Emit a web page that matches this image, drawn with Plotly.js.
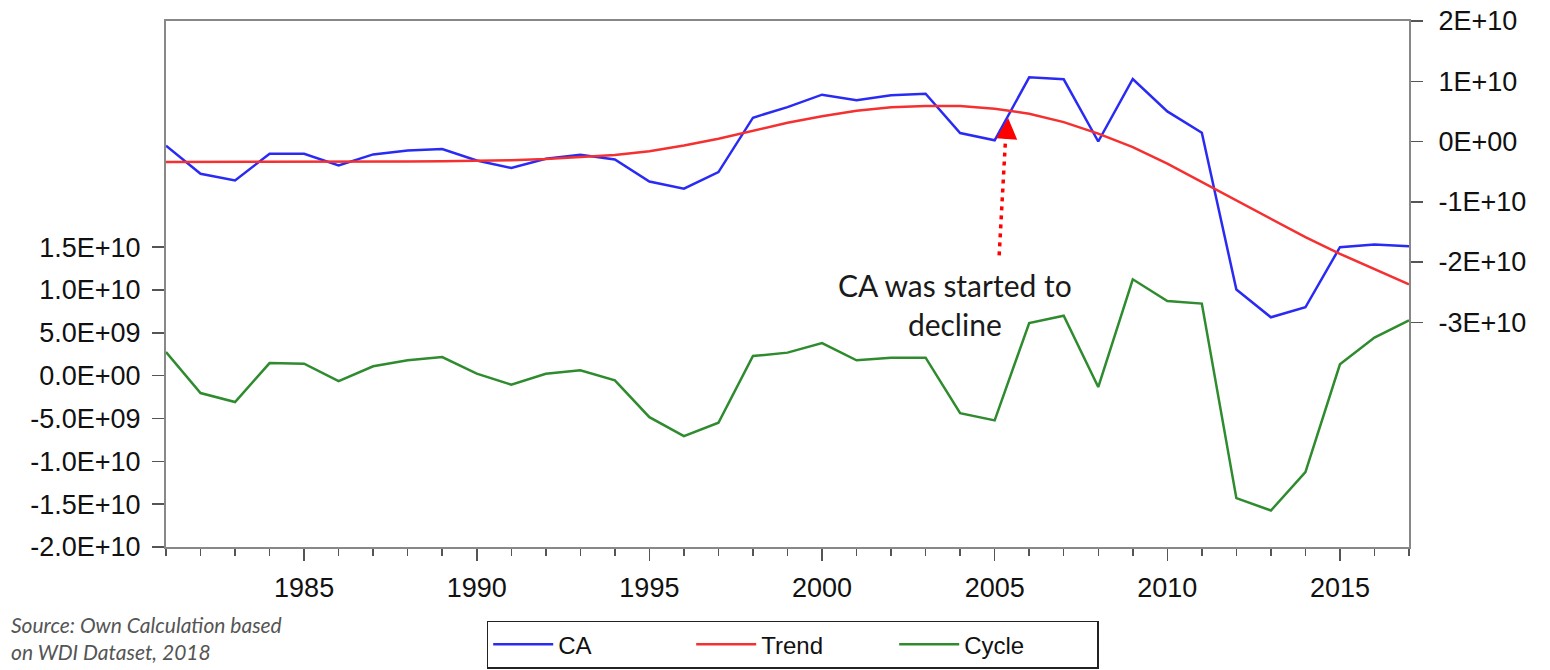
<!DOCTYPE html>
<html>
<head>
<meta charset="utf-8">
<script src="https://cdn.plot.ly/plotly-3.0.1.min.js"></script>
<style>
  html, body { margin: 0; padding: 0; background: #fff; }
  #plot { width: 1550px; height: 670px; }
</style>
</head>
<body>
<div id="plot"></div>
<script>
// years 1981-2017
var years = [];
for (var yr = 1981; yr <= 2017; yr++) years.push(yr);

// current account (right axis), in E+10
var caVals = [-0.07, -0.535, -0.646, -0.203, -0.203, -0.397, -0.214, -0.148, -0.125, -0.314,
              -0.44, -0.286, -0.22, -0.297, -0.663, -0.784, -0.508, 0.395, 0.571, 0.777,
              0.683, 0.766, 0.794, 0.14, 0.02, 1.065, 1.032, 0.0, 1.037, 0.5,
              0.146, -2.457, -2.917, -2.751, -1.754, -1.709, -1.738];

// HP trend (right axis), in E+10
var trendVals = [-0.342, -0.342, -0.341, -0.34, -0.338, -0.336, -0.333, -0.33, -0.326, -0.32,
                 -0.31, -0.29, -0.262, -0.222, -0.16, -0.068, 0.045, 0.182, 0.31, 0.42,
                 0.51, 0.57, 0.59, 0.588, 0.545, 0.462, 0.322, 0.13, -0.093, -0.369,
                 -0.674, -0.978, -1.282, -1.588, -1.864, -2.113, -2.37];

// cycle (left axis), in E+09
var cycleVals = [2.76, -2.03, -3.08, 1.47, 1.4, -0.63, 1.09, 1.8, 2.17, 0.23,
                 -1.05, 0.23, 0.62, -0.55, -4.84, -7.06, -5.5, 2.29, 2.69, 3.81,
                 1.79, 2.1, 2.1, -4.37, -5.22, 6.14, 7.0, -1.33, 11.25, 8.72,
                 8.41, -14.3, -15.74, -11.26, 1.32, 4.44, 6.46];

// tick labels
var leftTickVals = [-2.0e10, -1.5e10, -1.0e10, -5.0e9, 0, 5.0e9, 1.0e10, 1.5e10];
var leftTickText = ["-2.0E+10", "-1.5E+10", "-1.0E+10", "-5.0E+09", "0.0E+00", "5.0E+09", "1.0E+10", "1.5E+10"];
var rightTickVals = [-3e10, -2e10, -1e10, 0, 1e10, 2e10];
var rightTickText = ["-3E+10", "-2E+10", "-1E+10", "0E+00", "1E+10", "2E+10"];
var xTickVals = [1985, 1990, 1995, 2000, 2005, 2010, 2015];

var axisFont = {family: "Liberation Sans, Arial, sans-serif", size: 27, color: "#111"};

var traceCA = {
    x: years,
    y: caVals.map(v => v * 1e10),
    name: "CA",
    type: "scatter",
    mode: "lines",
    yaxis: "y2",
    line: {color: "#2a2af5", width: 2.5}
};

var traceTrend = {
    x: years,
    y: trendVals.map(v => v * 1e10),
    name: "Trend",
    type: "scatter",
    mode: "lines",
    yaxis: "y2",
    line: {color: "#f53030", width: 2.5}
};

var traceCycle = {
    x: years,
    y: cycleVals.map(v => v * 1e9),
    name: "Cycle",
    type: "scatter",
    mode: "lines",
    line: {color: "#2e8b2e", width: 2.5}
};

var traceData = [traceCA, traceTrend, traceCycle];

var layout = {
    width: 1550,
    height: 670,
    margin: {l: 166, r: 141, t: 21, b: 123, autoexpand: false},
    paper_bgcolor: "#fff",
    plot_bgcolor: "#fff",
    showlegend: true,
    legend: {
        orientation: "h",
        x: 0.258, xanchor: "left",
        y: -0.14, yanchor: "top",
        bordercolor: "#222",
        borderwidth: 1.5,
        font: {family: "Liberation Sans, Arial, sans-serif", size: 24, color: "#111"},
        entrywidth: 128,
        itemwidth: 60
    },
    xaxis: {
        range: [1981, 2017],
        tickvals: xTickVals,
        ticks: "outside",
        ticklen: 12,
        tickwidth: 1.5,
        tickcolor: "#555",
        tickfont: axisFont,
        ticklabelstandoff: 4,
        showgrid: false,
        zeroline: false,
        showline: true,
        linecolor: "#888",
        linewidth: 2,
        mirror: true,
        minor: {dtick: 1, tick0: 1981, ticks: "outside", ticklen: 7, tickwidth: 1.5, tickcolor: "#555", showgrid: false}
    },
    yaxis: {
        range: [-2.0e10, 4.14e10],
        tickvals: leftTickVals,
        ticktext: leftTickText,
        ticks: "outside",
        ticklen: 12,
        tickwidth: 1.5,
        tickcolor: "#555",
        tickfont: axisFont,
        ticklabelstandoff: 6,
        showgrid: false,
        zeroline: false,
        showline: true,
        linecolor: "#888",
        linewidth: 2
    },
    yaxis2: {
        overlaying: "y",
        side: "right",
        range: [-6.73e10, 2.0e10],
        tickvals: rightTickVals,
        ticktext: rightTickText,
        ticks: "outside",
        ticklen: 12,
        tickwidth: 1.5,
        tickcolor: "#555",
        tickfont: axisFont,
        ticklabelstandoff: 10,
        showgrid: false,
        zeroline: false,
        showline: true,
        linecolor: "#888",
        linewidth: 2
    },
    shapes: [
        // dotted shaft of the annotation arrow
        {type: "line", xref: "x", yref: "y2",
         x0: 2005.13, y0: -1.89e10, x1: 2005.33, y1: 0.2e10,
         line: {color: "#f00", width: 3.5, dash: "4px,5px"}}
    ],
    annotations: [
        {xref: "x", yref: "y2", x: 2005.39, y: 0.39e10,
         ax: -1.2, ay: 18, showarrow: true, arrowhead: 2, arrowsize: 1.4,
         arrowwidth: 3, arrowcolor: "#f00", text: ""},
        {xref: "x", yref: "y2", x: 2003.86, y: -2.706e10,
         showarrow: false, align: "center",
         text: "CA was started to<br>decline",
         font: {family: "Lato, Open Sans, sans-serif", size: 30, color: "#1a1a1a"}},
        {xref: "paper", yref: "paper", x: -0.126, y: -0.12,
         xanchor: "left", yanchor: "top", align: "left", showarrow: false,
         text: "<i>Source: Own Calculation based<br>on WDI Dataset, 2018</i>",
         font: {family: "Lato, Open Sans, sans-serif", size: 21, color: "#555"}}
    ]
};

Plotly.newPlot("plot", traceData, layout, {displayModeBar: false, staticPlot: true});
</script>
</body>
</html>
